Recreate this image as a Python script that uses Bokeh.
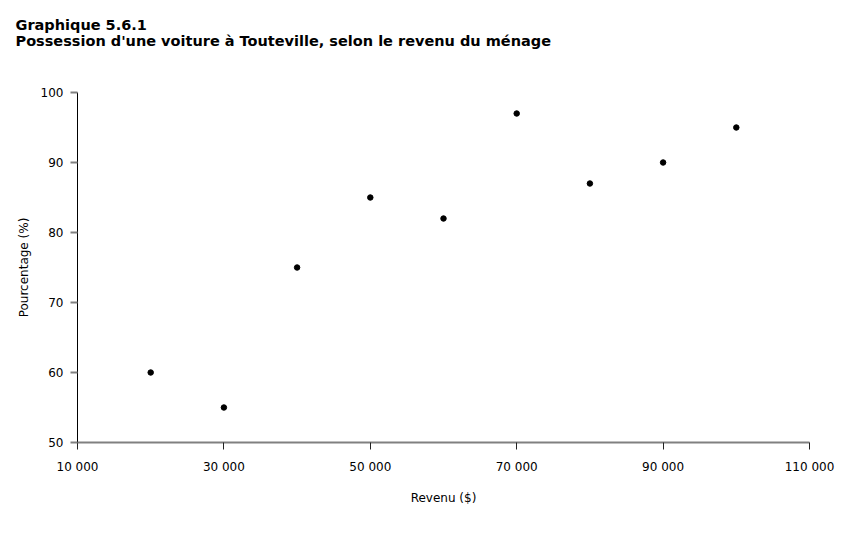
from bokeh.plotting import figure
from bokeh.models import FixedTicker, CustomJSTickFormatter, Range1d, Title
from bokeh.embed import file_html
from bokeh.resources import INLINE

revenu = [20000, 30000, 40000, 50000, 60000, 70000, 80000, 90000, 100000]
pourcentage = [60, 55, 75, 85, 82, 97, 87, 90, 95]
x_ticks = [10000, 30000, 50000, 70000, 90000, 110000]
y_ticks = [50, 60, 70, 80, 90, 100]
title_lines = ["Graphique 5.6.1",
               "Possession d'une voiture à Touteville, selon le revenu du ménage"]

FONT = "Verdana, DejaVu Sans"

p = figure(width=835, height=515, output_backend="svg", toolbar_location=None,
           x_range=Range1d(10000, 110000), y_range=Range1d(50, 100),
           min_border_left=77, min_border_right=26, min_border_top=92, min_border_bottom=73,
           title="\n".join(title_lines))

p.title.text_font = FONT
p.title.text_font_size = "14.5px"
p.title.text_font_style = "bold"
p.title.text_color = "#000000"
p.title.align = "left"
p.title.offset = -62
p.title.standoff = 0

# empty spacer between title and plot area
p.add_layout(Title(text=" ", text_font_size="1px", standoff=41), "above")

p.outline_line_color = None
p.xgrid.grid_line_color = None
p.ygrid.grid_line_color = None
p.background_fill_color = "white"
p.border_fill_color = "white"

p.scatter(revenu, pourcentage, size=5.5, color="#000000")

fmt = CustomJSTickFormatter(code="return tick.toFixed(0).replace(/\\B(?=(\\d{3})+(?!\\d))/g, ' ');")

xa = p.xaxis[0]
xa.ticker = FixedTicker(ticks=x_ticks)
xa.formatter = fmt
xa.axis_label = "Revenu ($)"
xa.axis_line_color = "#808080"
xa.axis_line_width = 2
xa.major_tick_line_color = "#222222"
xa.major_tick_out = 7
xa.major_tick_in = 0
xa.minor_tick_line_color = None
xa.major_label_standoff = 10
xa.axis_label_standoff = 14
xa.major_label_text_font = FONT
xa.major_label_text_font_size = "12px"
xa.major_label_text_color = "#000000"
xa.axis_label_text_font = FONT
xa.axis_label_text_font_size = "12px"
xa.axis_label_text_font_style = "normal"
xa.axis_label_text_color = "#000000"

ya = p.yaxis[0]
ya.ticker = FixedTicker(ticks=y_ticks)
ya.axis_label = "Pourcentage (%)"
ya.axis_line_color = "#000000"
ya.axis_line_width = 1
ya.major_tick_line_color = "#808080"
ya.major_tick_line_width = 2
ya.major_tick_out = 7
ya.major_tick_in = 0
ya.minor_tick_line_color = None
ya.major_label_standoff = 7
ya.axis_label_standoff = 7
ya.major_label_text_font = FONT
ya.major_label_text_font_size = "12px"
ya.major_label_text_color = "#000000"
ya.axis_label_text_font = FONT
ya.axis_label_text_font_size = "12px"
ya.axis_label_text_font_style = "normal"
ya.axis_label_text_color = "#000000"

open("out.html", "w").write(file_html(p, INLINE))
